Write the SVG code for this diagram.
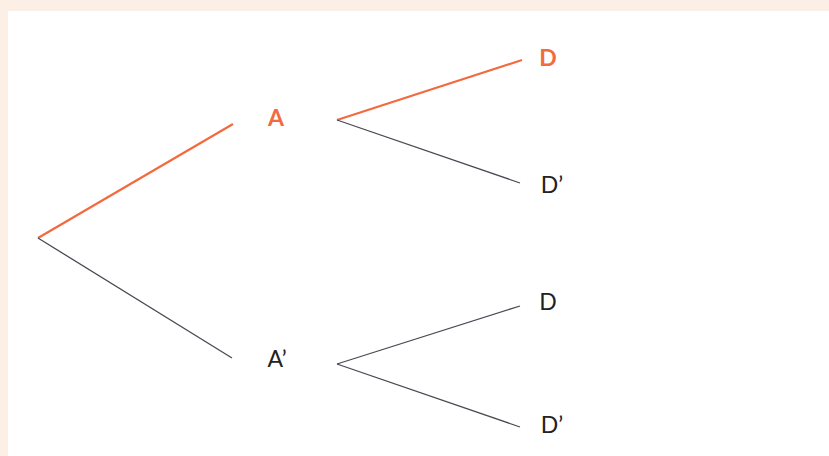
<svg xmlns="http://www.w3.org/2000/svg" width="829" height="456" viewBox="0 0 829 456">
<style>
.t{font-family:Lato,"Noto Sans",sans-serif;font-size:23px;text-anchor:middle;fill:#222}
.o{fill:#f26a3d;font-weight:bold}
.lo{stroke:#f26a3d;stroke-width:2.2;fill:none}
.lg{stroke:#4a4a55;stroke-width:1.3;fill:none}
</style>
<rect x="0" y="0" width="829" height="456" fill="#fcefe6"/>
<rect x="8" y="11" width="821" height="445" fill="#ffffff"/>
<g id="connectors">
<line class="lo" x1="38" y1="238" x2="233" y2="124"/>
<line class="lg" x1="38" y1="238" x2="232" y2="358"/>
<line class="lo" x1="337" y1="120" x2="522" y2="60"/>
<line class="lg" x1="337" y1="120" x2="520" y2="183"/>
<line class="lg" x1="337" y1="364" x2="520" y2="306"/>
<line class="lg" x1="337" y1="364" x2="520" y2="427"/>
</g>
<g id="nodeA"><text class="t o" x="276" y="126">A</text></g>
<g id="nodeAp"><text class="t" x="277" y="367">A’</text></g>
<g id="nodeD1"><text class="t o" x="548" y="66">D</text></g>
<g id="nodeD1p"><text class="t" x="552" y="193">D’</text></g>
<g id="nodeD2"><text class="t" x="548" y="310">D</text></g>
<g id="nodeD2p"><text class="t" x="552" y="433">D’</text></g>
</svg>
